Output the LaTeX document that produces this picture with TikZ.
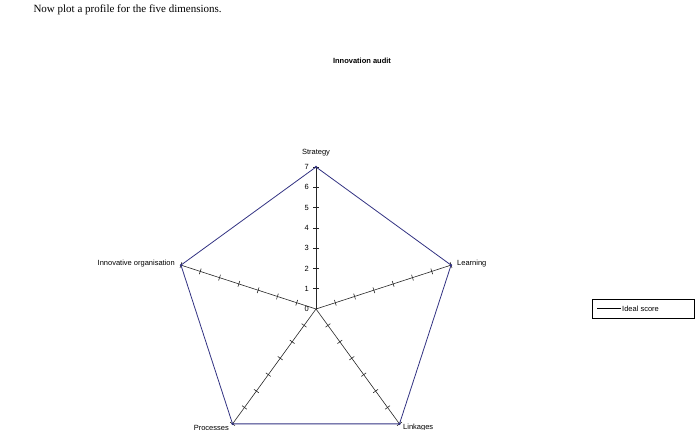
\documentclass[tikz,border=0pt]{standalone}
\usepackage{fontspec}
\setmainfont{Liberation Sans}
\newfontfamily\serifx{Liberation Serif}
\usetikzlibrary{calc}
\definecolor{idealc}{RGB}{50,50,130}
\begin{document}
\begin{tikzpicture}[x=1pt,y=-1pt,
  lbl/.style={font=\fontsize{7.5}{9}\selectfont,inner sep=1pt},
  axisline/.style={draw=black!85,line width=0.6pt},
  ideal/.style={draw=idealc,line width=0.8pt}]
\useasboundingbox (0,0) rectangle (700,430);
\node[anchor=west,font=\serifx\fontsize{11}{13}\selectfont] (t) at (30,10) {Now plot a profile for the five dimensions.};
\node[font=\bfseries\fontsize{7.5}{9}\selectfont] (h) at (362,61) {Innovation audit};
\coordinate (c) at (316,309);
\foreach \n/\a in {s/90,l/18,k/-54,p/-126,o/162}{
  \coordinate (\n) at ($(c)+({142*cos(\a)},{-142*sin(\a)})$);
  \draw[axisline] (c) -- (\n);
  \foreach \i in {1,...,7}{
    \draw[axisline] ($(c)!\i/7!(\n)$) ++({3*cos(\a+90)},{-3*sin(\a+90)}) -- ++({-6*cos(\a+90)},{6*sin(\a+90)});
  }
}
\draw[ideal] (s) -- (l) -- (k) -- (p) -- (o) -- cycle;
\foreach \n in {s,l,k,p,o} \fill[idealc] (\n) circle (1.3);
\foreach \i in {0,...,7} \node[lbl,anchor=east] (n\i) at ($(c)+(-6,{-\i*142/7})$) {\i};
\node[lbl,anchor=south] (ls) at (316,157) {Strategy};
\node[lbl,anchor=west] (ll) at (456,264) {Learning};
\node[lbl,anchor=west] (lk) at (402,428) {Linkages};
\node[lbl,anchor=east] (lp) at (230,428) {Processes};
\node[lbl,anchor=east] (lo) at (176,264) {Innovative organisation};
\draw[line width=0.5pt] (592,299) rectangle (694,318);
\coordinate (la) at (597,308.5);
\coordinate (lb) at (621,308.5);
\draw[line width=0.6pt] (la) -- (lb);
\node[lbl,anchor=west] (lt) at (621,308.5) {Ideal score};
\end{tikzpicture}
\end{document}
